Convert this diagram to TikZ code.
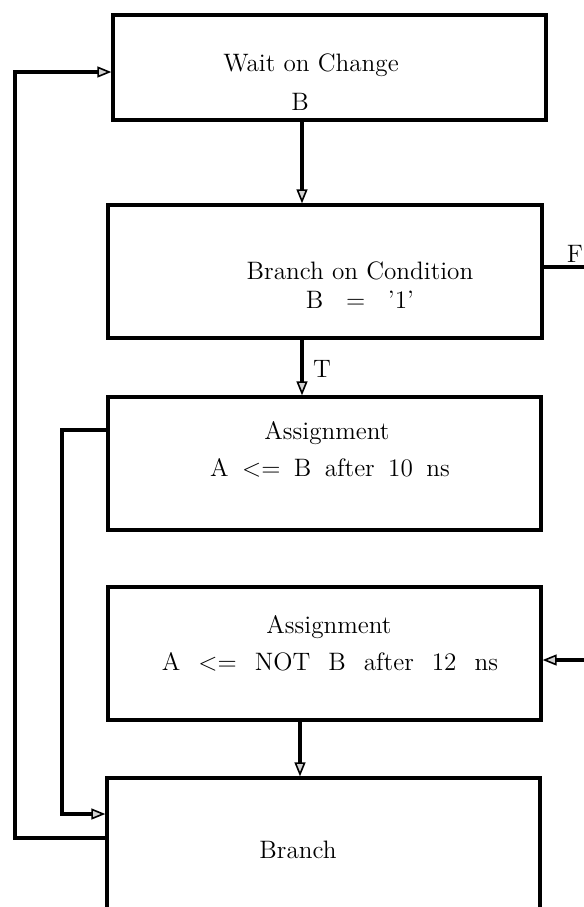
\documentclass[tikz,border=0pt]{standalone}
\usepackage{fontspec}
\usetikzlibrary{arrows.meta}
\begin{document}
\begin{tikzpicture}[x=0.5pt,y=-0.5pt,
  box/.style={draw, line width=1.7pt, minimum width=216.5pt, inner sep=0pt},
  lbl/.style={font=\fontsize{12.6}{14}\selectfont, inner sep=0pt, anchor=base},
  wire/.style={line width=1.7pt},
  arr/.style={wire, -{Triangle[length=7pt,width=5.5pt,line width=0.8pt,fill=gray!35]}}]
\useasboundingbox (0,0) rectangle (584,907);
\clip (0,0) rectangle (584,907);

% flow boxes
\node[box, minimum height=52.5pt] (b1) at (329.5,67.5) {};
\node[box, minimum height=66.5pt, minimum width=217pt] (b2) at (325,271.5) {};
\node[box, minimum height=66.5pt] (b3) at (324.5,463.5) {};
\node[box, minimum height=66.5pt] (b4) at (324.5,653.5) {};
\node[box, minimum height=86pt] (b5) at (323.5,864) {};

% box texts
\node[lbl] (t1a) at (311,71) {Wait on Change};
\node[lbl] (t1b) at (300,110) {B};
\node[lbl] (t2a) at (360,279) {Branch on Condition};
\node[lbl] (t2b) at (360,308) {B\hspace{0.9em}=\hspace{0.9em}'1'};
\node[lbl] (t3a) at (327,439) {Assignment};
\node[lbl] (t3b) at (330,476) {\spaceskip=6.7pt A <= B after 10 ns};
\node[lbl] (t4a) at (329,633) {Assignment};
\node[lbl] (t4b) at (330,670) {\spaceskip=9pt A <= NOT B after 12 ns};
\node[lbl] (t5) at (298,858) {Branch};

% routing points
\coordinate (c1) at (302,0);
\coordinate (c2) at (300,0);
\coordinate (fend) at (584,267);
\coordinate (rin) at (584,660);
\coordinate (l3) at (62,430);
\coordinate (l5) at (62,814);
\coordinate (lo1) at (15,838);
\coordinate (lo2) at (15,72);

% connectors
\draw[arr] (b1.south -| c1) -- (b2.north -| c1);
\draw[arr] (b2.south -| c1) -- (b3.north -| c1);
\node[lbl] (tl) at (322,377) {T};
\draw[wire] (b2.east |- fend) -- (fend);
\node[lbl] (fl) at (575,262) {F};
\draw[arr] (rin) -- (b4.east |- rin);
\draw[arr] (b3.west |- l3) -- (l3) -- (l5) -- (b5.west |- l5);
\draw[arr] (b4.south -| c2) -- (b5.north -| c2);
\draw[arr] (b5.west |- lo1) -- (lo1) -- (lo2) -- (b1.west |- lo2);
\end{tikzpicture}
\end{document}
